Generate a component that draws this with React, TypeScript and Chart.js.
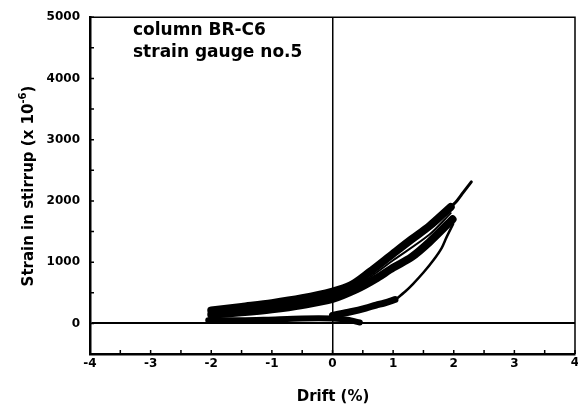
import React, { useEffect, useRef } from "react";
import { Chart, registerables } from "chart.js";

Chart.register(...registerables);

// ---- data ----
const xTickValues = [-4, -3, -2, -1, 0, 1, 2, 3, 4];
const yTickValues = [0, 1000, 2000, 3000, 4000, 5000];
const xMinorTicks = [-3.5, -2.5, -1.5, -0.5, 0.5, 1.5, 2.5, 3.5];
const yMinorTicks = [-500, 500, 1500, 2500, 3500, 4500];

const loadingDrift = [-2.0, -1.5, -1.0, -0.5, 0, 0.3, 0.6, 1.0, 1.3, 1.6, 1.95];
const loadingStrain = [210, 270, 330, 410, 520, 620, 830, 1140, 1370, 1590, 1900];

const unloadingDrift = [1.98, 1.6, 1.3, 1.0, 0.7, 0.4, 0, -0.5, -1.0, -1.5, -2.0];
const unloadingStrain = [1700, 1330, 1080, 910, 720, 560, 400, 300, 230, 180, 140];

const middleDrift = [1.95, 1.6, 1.0, 0.5, 0, -1.0, -2.0];
const middleStrain = [1800, 1450, 1030, 680, 460, 270, 170];

const tailDrift = [1.95, 2.05, 2.15, 2.29];
const tailStrain = [1900, 2000, 2130, 2310];

const outerDrift = [1.03, 1.2, 1.33, 1.5, 1.66, 1.8, 1.88, 1.99];
const outerStrain = [380, 520, 646, 830, 1026, 1230, 1405, 1624];

const risingDrift = [0.0, 0.3, 0.55, 0.72, 0.85, 1.03];
const risingStrain = [130, 190, 250, 300, 330, 390];

const baseDrift = [-2.05, -1.5, -1.1, -0.5, 0, 0.25, 0.45];
const baseStrain = [50, 50, 60, 80, 80, 60, 15];

const toPts = (xs: number[], ys: number[]) => xs.map((x, i) => ({ x, y: ys[i] }));

const FONT = "'DejaVu Sans', sans-serif";
const LAST_X = xTickValues[xTickValues.length - 1];

export default function App() {
  const ref = useRef<HTMLCanvasElement | null>(null);

  useEffect(() => {
    if (!ref.current) return;
    const line = (xs: number[], ys: number[], w: number) => ({
      data: toPts(xs, ys),
      showLine: true,
      borderColor: "#000",
      backgroundColor: "#000",
      borderWidth: w,
      pointRadius: 0,
      tension: 0.3,
      borderCapStyle: "round" as const,
      borderJoinStyle: "round" as const,
    });

    const decor = {
      id: "decor",
      afterDraw(chart: any) {
        const { ctx, chartArea: a, scales } = chart;
        const xs = scales.x;
        const ys = scales.y;
        ctx.save();
        ctx.strokeStyle = "#000";
        // top & right frame
        ctx.lineWidth = 1.5;
        ctx.beginPath();
        ctx.moveTo(a.left, a.top);
        ctx.lineTo(a.right, a.top);
        ctx.lineTo(a.right, a.bottom);
        ctx.stroke();
        // inside ticks
        ctx.lineWidth = 1.5;
        ctx.beginPath();
        [...xTickValues, ...xMinorTicks].forEach((v) => {
          const px = xs.getPixelForValue(v);
          ctx.moveTo(px, a.bottom);
          ctx.lineTo(px, a.bottom - 4);
        });
        [...yTickValues, ...yMinorTicks].forEach((v) => {
          const py = ys.getPixelForValue(v);
          ctx.moveTo(a.left, py);
          ctx.lineTo(a.left + 4, py);
        });
        ctx.stroke();

        ctx.fillStyle = "#000";
        // last x tick label (clipped at the canvas edge like the original)
        ctx.font = `bold 12px ${FONT}`;
        ctx.textAlign = "center";
        ctx.textBaseline = "top";
        ctx.fillText(String(LAST_X), xs.getPixelForValue(LAST_X), a.bottom + 3);

        // annotation
        ctx.textBaseline = "alphabetic";
        ctx.font = `bold 17px ${FONT}`;
        ctx.textAlign = "left";
        ctx.fillText("column BR-C6", 133, 35);
        ctx.fillText("strain gauge no.5", 133, 57);

        // x title
        ctx.font = `bold 15px ${FONT}`;
        ctx.textAlign = "center";
        ctx.fillText("Drift (%)", 333, 401);

        // y title
        const main = "Strain in stirrup (x 10";
        const sup = "-6";
        const end = ")";
        ctx.font = `bold 15px ${FONT}`;
        const wMain = ctx.measureText(main).width;
        const wEnd = ctx.measureText(end).width;
        ctx.font = `bold 10px ${FONT}`;
        const wSup = ctx.measureText(sup).width;
        const total = wMain + wSup + wEnd;
        ctx.translate(33, 186);
        ctx.rotate(-Math.PI / 2);
        ctx.textAlign = "left";
        let x0 = -total / 2;
        ctx.font = `bold 15px ${FONT}`;
        ctx.fillText(main, x0, 0);
        x0 += wMain;
        ctx.font = `bold 10px ${FONT}`;
        ctx.fillText(sup, x0, -7);
        x0 += wSup;
        ctx.font = `bold 15px ${FONT}`;
        ctx.fillText(end, x0, 0);
        ctx.restore();
      },
    };

    const chart = new Chart(ref.current, {
      type: "scatter",
      data: {
        datasets: [
          line(baseDrift, baseStrain, 6),
          line(risingDrift, risingStrain, 7),
          line(outerDrift, outerStrain, 2.5),
          line(unloadingDrift, unloadingStrain, 8),
          line(loadingDrift, loadingStrain, 8),
          line(middleDrift, middleStrain, 2),
          line(tailDrift, tailStrain, 3),
        ],
      },
      options: {
        responsive: false,
        animation: false,
        layout: { padding: { top: 15, right: 1, left: 0, bottom: 0 } },
        plugins: {
          legend: { display: false },
          tooltip: { enabled: false },
        },
        scales: {
          x: {
            type: "linear",
            min: -4,
            max: 4,
            afterBuildTicks: (s: any) => {
              s.ticks = xTickValues.map((v) => ({ value: v }));
            },
            afterFit: (s: any) => {
              s.height = 59;
            },
            ticks: {
              color: "#000",
              font: { family: FONT, weight: "bold", size: 12 },
              padding: 3,
              maxRotation: 0,
              callback: (v: any) => (v === LAST_X ? "" : String(v)),
            },
            grid: {
              drawTicks: false,
              color: (c: any) => (c.tick && c.tick.value === 0 ? "#000" : "rgba(0,0,0,0)"),
              lineWidth: 1.5,
            },
            border: { display: true, color: "#000", width: 2.5 },
          },
          y: {
            type: "linear",
            min: -500,
            max: 5000,
            afterBuildTicks: (s: any) => {
              s.ticks = yTickValues.map((v) => ({ value: v }));
            },
            afterFit: (s: any) => {
              s.width = 90;
            },
            ticks: {
              color: "#000",
              font: { family: FONT, weight: "bold", size: 12 },
              padding: 10,
              callback: (v: any) => String(v),
            },
            grid: {
              drawTicks: false,
              color: (c: any) => (c.tick && c.tick.value === 0 ? "#000" : "rgba(0,0,0,0)"),
              lineWidth: 2,
            },
            border: { display: true, color: "#000", width: 2.5 },
          },
        },
      },
      plugins: [decor],
    });
    return () => chart.destroy();
  }, []);

  return (
    <div style={{ position: "fixed", left: 0, top: 0, width: 578, height: 413, background: "#fff" }}>
      <canvas ref={ref} width={578} height={413} style={{ display: "block" }} />
    </div>
  );
}
